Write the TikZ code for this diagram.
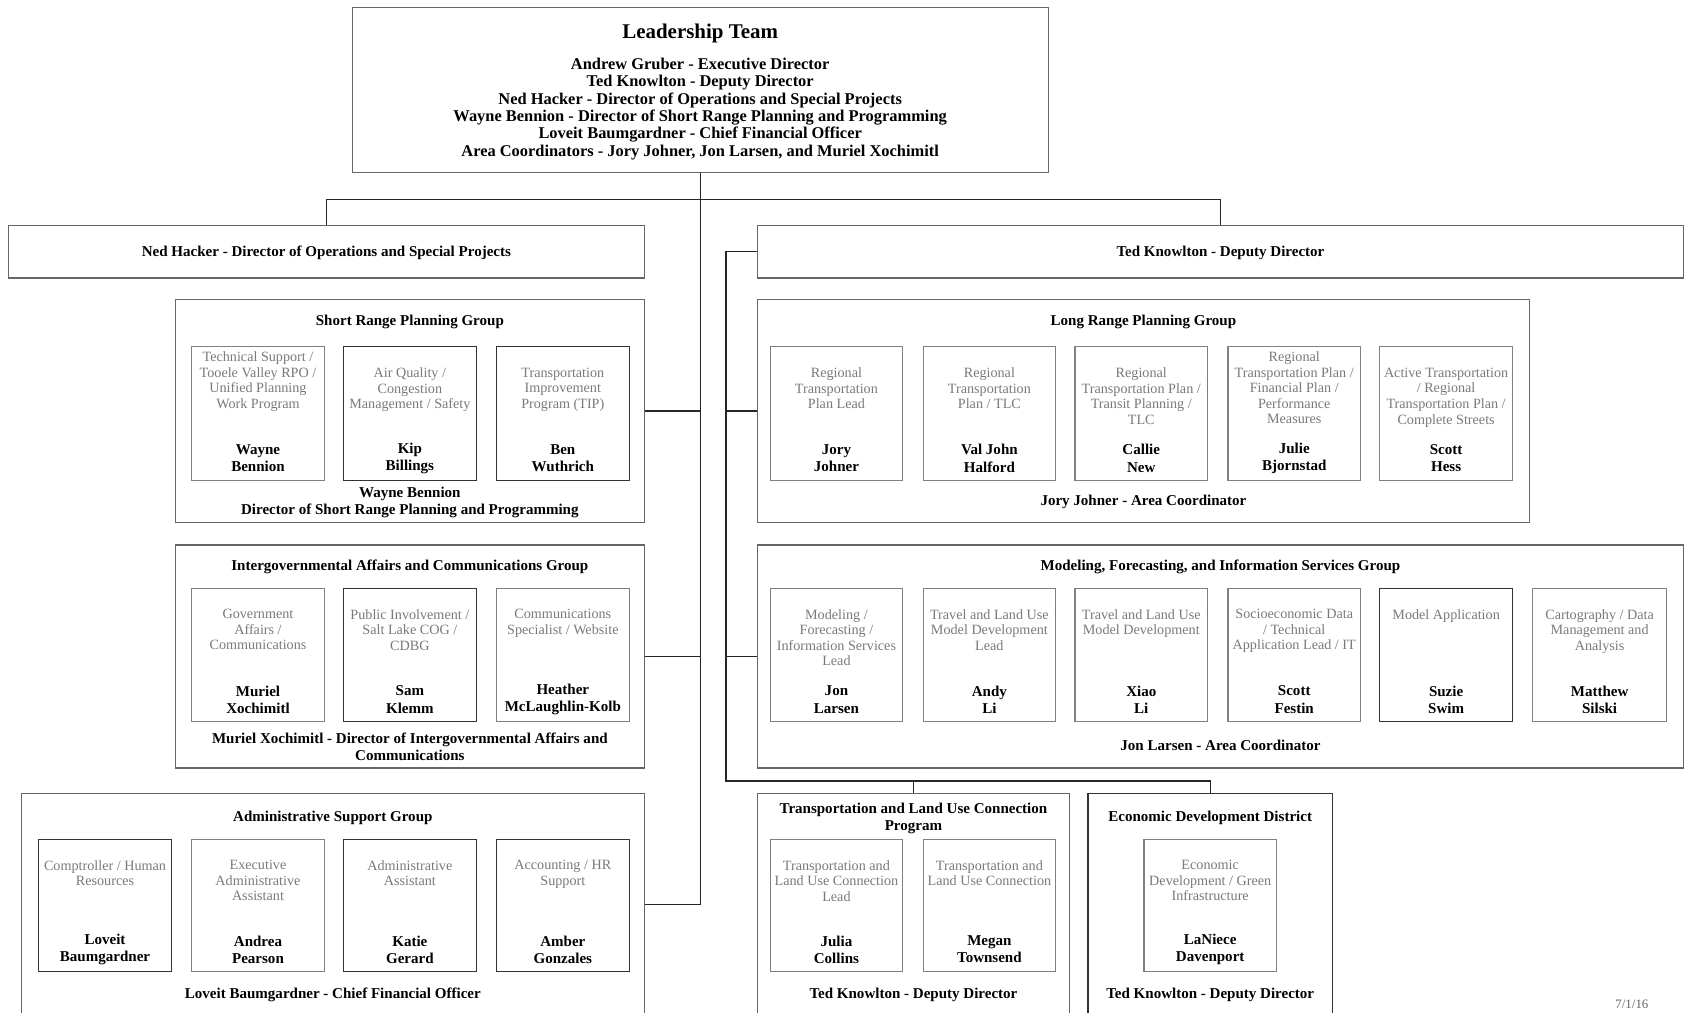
\documentclass[tikz,border=0pt]{standalone}
\usepackage{fontspec}
\setmainfont{Liberation Serif}
\usetikzlibrary{fit,calc}
\tikzset{
  grp/.style={draw=black!60, line width=1.1bp, inner sep=0pt},
  ibox/.style={draw=black!50, line width=1.05bp, inner sep=0pt},
  blk/.style={draw=black!80},
  conn/.style={draw=black!85, line width=1.2bp},
  gtxt/.style={text=black!52, font=\fontsize{13.2}{14.5}\selectfont, align=center, inner sep=0pt},
  ntxt/.style={font=\fontsize{14}{16}\selectfont\bfseries, align=center, inner sep=0pt},
  ttl/.style={font=\fontsize{14}{16}\selectfont\bfseries, align=center, inner sep=0pt},
}
\newcommand{\staffbox}[9][]{%
  \node[ibox,#1,fit={(#3,#4)(#5,#6)}] (#2) {};
  \node[gtxt, anchor=north] (#2g) at ($(#2.north)+(0,#9+1)$) {#7};
  \node[ntxt] (#2n) at ($(#2.south)+(0,-21)$) {#8};
}
\begin{document}
\begin{tikzpicture}[x=1bp,y=-1bp]
\fill[white] (0,0) rectangle (1568,940);
\useasboundingbox (0,0) rectangle (1568,940);

% Leadership
\node[grp, fit={(327,7)(973,160)}] (lead) {};
\node[font=\fontsize{19.5}{22}\selectfont\bfseries, inner sep=0pt] (leadt) at (650,31) {Leadership Team};
\node[font=\fontsize{15.3}{16.2}\selectfont\bfseries, align=center, inner sep=0pt] (leadl) at (650,101) {Andrew Gruber - Executive Director\\Ted Knowlton - Deputy Director\\Ned Hacker - Director of Operations and Special Projects\\Wayne Bennion - Director of Short Range Planning and Programming\\Loveit Baumgardner - Chief Financial Officer\\Area Coordinators - Jory Johner, Jon Larsen, and Muriel Xochimitl};

% Directors
\node[grp, fit={(8,209)(598,258)}] (ned) {};
\node[ttl] (nedt) at ($(ned.center)+(0,1.5)$) {Ned Hacker - Director of Operations and Special Projects};
\node[grp, fit={(703,209)(1563,258)}] (ted) {};
\node[ttl] (tedt) at ($(ted.center)+(0,1)$) {Ted Knowlton - Deputy Director};

% Short Range Planning Group
\node[grp, fit={(163,278)(598,485)}] (srp) {};
\node[ttl] (srpt) at (380.5,299) {Short Range Planning Group};
\staffbox{srp1}{178}{322}{301}{446}{Technical Support /\\Tooele Valley RPO /\\Unified Planning\\Work Program}{Wayne\\Bennion}{4}
\staffbox[blk]{srp2}{319}{322}{442}{446}{Air Quality /\\Congestion\\Management / Safety}{Kip\\Billings}{19}
\staffbox[blk]{srp3}{461}{322}{584}{446}{Transportation\\Improvement\\Program (TIP)}{Ben\\Wuthrich}{19}
\node[ttl] (srpf) at (380.5,466.5) {Wayne Bennion\\Director of Short Range Planning and Programming};

% Intergovernmental
\node[grp, fit={(163,506)(598,713)}] (igc) {};
\node[ttl] (igct) at (380.5,526) {Intergovernmental Affairs and Communications Group};
\staffbox{igc1}{178}{546}{301}{670}{Government\\Affairs /\\Communications}{Muriel\\Xochimitl}{19}
\staffbox[blk]{igc2}{319}{546}{442}{670}{Public Involvement /\\Salt Lake COG /\\CDBG}{Sam\\Klemm}{19}
\staffbox{igc3}{461}{546}{584}{670}{Communications\\Specialist / Website}{Heather\\McLaughlin-Kolb}{19}
\node[ttl] (igcf) at (380.5,693.5) {Muriel Xochimitl - Director of Intergovernmental Affairs and\\Communications};

% Administrative Support
\node[grp, fit={(20,737)(598,942)}] (adm) {};
\node[ttl] (admt) at (309,759) {Administrative Support Group};
\staffbox[blk]{adm1}{36}{779}{159}{902}{Comptroller / Human\\Resources}{Loveit\\Baumgardner}{19}
\staffbox{adm2}{178}{779}{301}{902}{Executive\\Administrative\\Assistant}{Andrea\\Pearson}{19}
\staffbox[blk]{adm3}{319}{779}{442}{902}{Administrative\\Assistant}{Katie\\Gerard}{19}
\staffbox[blk]{adm4}{461}{779}{584}{902}{Accounting / HR\\Support}{Amber\\Gonzales}{19}
\node[ttl] (admf) at (309,923.5) {Loveit Baumgardner - Chief Financial Officer};

% Long Range Planning
\node[grp, fit={(703,278)(1420,485)}] (lrp) {};
\node[ttl] (lrpt) at (1061.5,299) {Long Range Planning Group};
\staffbox{lrp1}{715}{322}{838}{446}{Regional\\Transportation\\Plan Lead}{Jory\\Johner}{19}
\staffbox{lrp2}{857}{322}{980}{446}{Regional\\Transportation\\Plan / TLC}{Val John\\Halford}{19}
\staffbox{lrp3}{998}{322}{1121}{446}{Regional\\Transportation Plan /\\Transit Planning /\\TLC}{Callie\\New}{19}
\staffbox{lrp4}{1140}{322}{1263}{446}{Regional\\Transportation Plan /\\Financial Plan /\\Performance\\Measures}{Julie\\Bjornstad}{4}
\staffbox{lrp5}{1281}{322}{1404}{446}{Active Transportation\\/ Regional\\Transportation Plan /\\Complete Streets}{Scott\\Hess}{19}
\node[ttl] (lrpf) at (1061.5,465.5) {Jory Johner - Area Coordinator};

% Modeling
\node[grp, fit={(703,506)(1563,713)}] (mfi) {};
\node[ttl] (mfit) at (1133,526) {Modeling, Forecasting, and Information Services Group};
\staffbox{mfi1}{715}{546}{838}{670}{Modeling /\\Forecasting /\\Information Services\\Lead}{Jon\\Larsen}{19}
\staffbox{mfi2}{857}{546}{980}{670}{Travel and Land Use\\Model Development\\Lead}{Andy\\Li}{19}
\staffbox{mfi3}{998}{546}{1121}{670}{Travel and Land Use\\Model Development}{Xiao\\Li}{19}
\staffbox{mfi4}{1140}{546}{1263}{670}{Socioeconomic Data\\/ Technical\\Application Lead / IT}{Scott\\Festin}{19}
\staffbox[blk]{mfi5}{1281}{546}{1404}{670}{Model Application}{Suzie\\Swim}{19}
\staffbox{mfi6}{1423}{546}{1547}{670}{Cartography / Data\\Management and\\Analysis}{Matthew\\Silski}{19}
\node[ttl] (mfif) at (1133,691.5) {Jon Larsen - Area Coordinator};

% TLC
\node[grp, fit={(703,737)(993,942)}] (tlc) {};
\node[ttl] (tlct) at (848,759.5) {Transportation and Land Use Connection\\Program};
\staffbox{tlc1}{715}{779}{838}{902}{Transportation and\\Land Use Connection\\Lead}{Julia\\Collins}{19}
\staffbox{tlc2}{857}{779}{980}{902}{Transportation and\\Land Use Connection}{Megan\\Townsend}{19}
\node[ttl] (tlcf) at (848,923.5) {Ted Knowlton - Deputy Director};

% EDD
\node[grp, blk, fit={(1010,737)(1237,942)}] (edd) {};
\node[ttl] (eddt) at (1123.5,759) {Economic Development District};
\staffbox{edd1}{1062}{779}{1185}{902}{Economic\\Development / Green\\Infrastructure}{LaNiece\\Davenport}{19}
\node[ttl] (eddf) at (1123.5,923.5) {Ted Knowlton - Deputy Director};

\node[text=black!60, font=\fontsize{12}{14}\selectfont, inner sep=0pt] (date) at (1515,932) {7/1/16};

% Connectors
\coordinate (bus) at (650,185);
\coordinate (rt) at (674,725);
\draw[conn] (ned.north) |- (bus) -| (ted.north);
\draw[conn] (lead.south) |- (adm.east);
\draw[conn] (srp.east) -- (srp.east -| lead.south);
\draw[conn] (igc.east) -- (igc.east -| lead.south);
\draw[conn] (ted.west) -| (rt) -| (edd.north);
\draw[conn] (lrp.west) -- (lrp.west -| rt);
\draw[conn] (mfi.west) -- (mfi.west -| rt);
\draw[conn] (tlc.north) -- (tlc.north |- rt);
\end{tikzpicture}
\end{document}
